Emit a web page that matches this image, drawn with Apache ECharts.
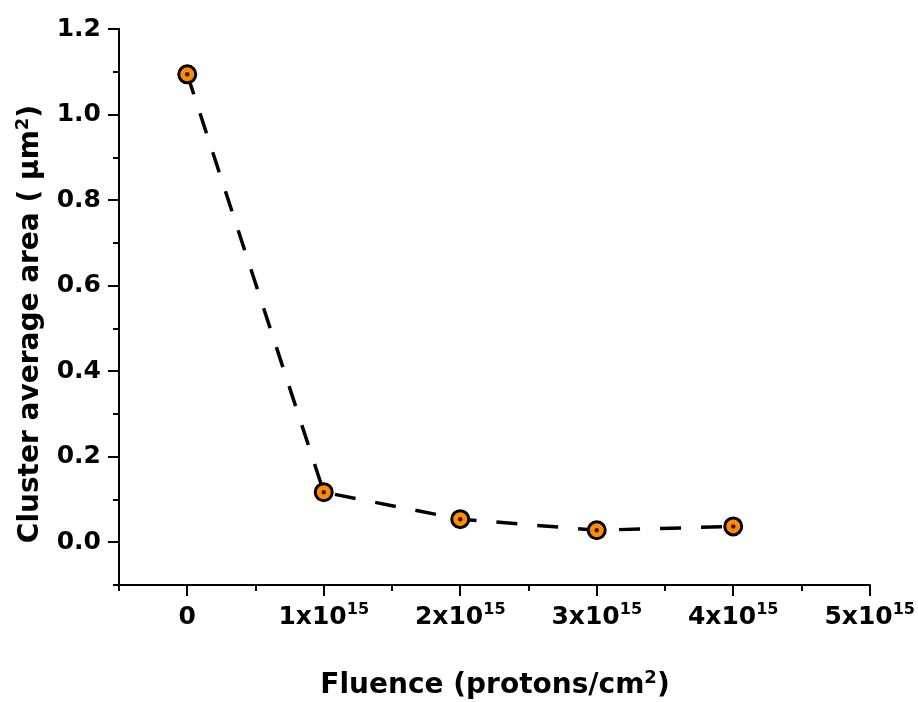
<!DOCTYPE html>
<html>
<head>
<meta charset="utf-8">
<script src="https://cdn.jsdelivr.net/npm/echarts@6/dist/echarts.min.js"></script>
<style>html,body{margin:0;padding:0;background:#fff}#c{width:918px;height:702px}</style>
</head>
<body>
<div id="c"></div>
<script>
// Fluence in units of 10^15 protons/cm^2
const fluence = [0, 1, 2, 3, 4];
// Cluster average area (um^2)
const area = [1.094, 0.117, 0.054, 0.028, 0.037];
const xMajorTicks = [0, 1, 2, 3, 4, 5];
const yMajorTicks = [0, 0.2, 0.4, 0.6, 0.8, 1.0, 1.2];
const xTitle = 'Fluence (protons/cm';
const yTitle = 'Cluster average area ( \u03bcm';

const FONT = 'DejaVu Sans';
const TICK_FS = 25;
const TITLE_FS = 28;
const chart = echarts.init(document.getElementById('c'), null, {renderer: 'canvas'});
const pts = fluence.map((x, i) => [x, area[i]]);
const black = '#000';

const lineOn = {show: true, onZero: false, lineStyle: {color: black, width: 2}};

chart.setOption({
  animation: false,
  backgroundColor: '#fff',
  grid: {left: 119, right: 48, top: 29, bottom: 117, containLabel: false},
  xAxis: [
    {
      type: 'value', min: -0.5, max: 5, interval: 0.5, position: 'bottom',
      axisLine: lineOn, splitLine: {show: false},
      axisTick: {show: true, inside: false, length: 6, lineStyle: {color: black, width: 2}},
      axisLabel: {show: false}
    },
    {
      type: 'value', min: -0.5, max: 5, interval: 0.5, position: 'bottom',
      axisLine: lineOn, splitLine: {show: false},
      axisTick: {show: true, inside: false, length: 11, customValues: xMajorTicks, lineStyle: {color: black, width: 2}},
      axisLabel: {
        show: true, customValues: xMajorTicks, margin: 17,
        fontFamily: FONT, fontWeight: 'bold', fontSize: TICK_FS, color: black,
        formatter: v => v === 0 ? '{n|0}' : '{n|' + v + 'x10}{s|15}',
        rich: {
          n: {fontFamily: FONT, fontWeight: 'bold', fontSize: TICK_FS, color: black, lineHeight: 30},
          s: {fontFamily: FONT, fontWeight: 'bold', fontSize: 16, color: black, verticalAlign: 'top', lineHeight: 16, padding: [0, 0, 14, 0]}
        }
      }
    }
  ],
  yAxis: [
    {
      type: 'value', min: -0.1, max: 1.2, interval: 0.1, position: 'left',
      axisLine: lineOn, splitLine: {show: false},
      axisTick: {show: true, inside: false, length: 6, lineStyle: {color: black, width: 2}},
      axisLabel: {show: false}
    },
    {
      type: 'value', min: -0.1, max: 1.2, interval: 0.1, position: 'left',
      axisLine: lineOn, splitLine: {show: false},
      axisTick: {show: true, inside: false, length: 11, customValues: yMajorTicks, lineStyle: {color: black, width: 2}},
      axisLabel: {
        show: true, customValues: yMajorTicks, margin: 18,
        fontFamily: FONT, fontWeight: 'bold', fontSize: TICK_FS, color: black,
        formatter: v => v.toFixed(1)
      }
    }
  ],
  series: [
    {
      type: 'line', xAxisIndex: 0, yAxisIndex: 0, data: pts,
      lineStyle: {color: black, width: 3.5, type: [21, 20]},
      symbol: 'circle', symbolSize: 17,
      itemStyle: {color: '#ff8c00', borderColor: black, borderWidth: 3},
      z: 3
    },
    {
      type: 'scatter', xAxisIndex: 0, yAxisIndex: 0, data: pts,
      symbol: 'circle', symbolSize: 4.5,
      itemStyle: {color: black},
      z: 4, silent: true
    }
  ],
  graphic: [
    {
      type: 'text', x: 495, y: 686,
      style: {
        text: '{a|' + xTitle + '}{s|2}{a|)}',
        align: 'center', verticalAlign: 'middle',
        rich: {
          a: {fontFamily: FONT, fontWeight: 'bold', fontSize: TITLE_FS, fill: black, lineHeight: 34},
          s: {fontFamily: FONT, fontWeight: 'bold', fontSize: 18, fill: black, verticalAlign: 'top', lineHeight: 18, padding: [0, 0, 14, 0]}
        }
      }
    },
    {
      type: 'text', x: 31, y: 324, rotation: Math.PI / 2,
      style: {
        text: '{a|' + yTitle + '}{s|2}{a|)}',
        align: 'center', verticalAlign: 'middle',
        rich: {
          a: {fontFamily: FONT, fontWeight: 'bold', fontSize: TITLE_FS, fill: black, lineHeight: 34},
          s: {fontFamily: FONT, fontWeight: 'bold', fontSize: 18, fill: black, verticalAlign: 'top', lineHeight: 18, padding: [0, 0, 14, 0]}
        }
      }
    }
  ]
});
</script>
</body>
</html>
